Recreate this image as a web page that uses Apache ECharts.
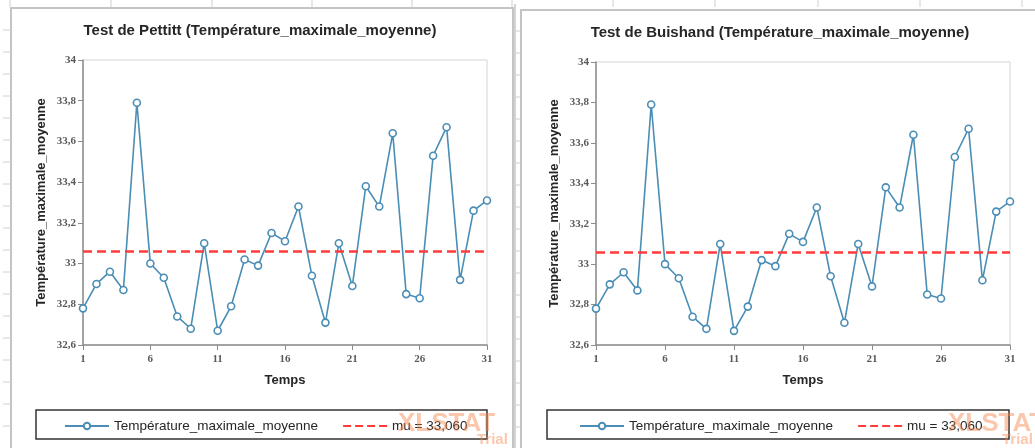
<!DOCTYPE html>
<html>
<head>
<meta charset="utf-8">
<script src="https://cdn.jsdelivr.net/npm/echarts@6/dist/echarts.min.js"></script>
<style>
html,body{margin:0;padding:0;background:#fff;}
#chart{width:1035px;height:448px;}
</style>
</head>
<body>
<div id="chart"></div>
<script>
// ---- data ----
const titles = [
  'Test de Pettitt (Température_maximale_moyenne)',
  'Test de Buishand (Température_maximale_moyenne)'
];
const categories = ['1','2','3','4','5','6','7','8','9','10','11','12','13','14','15','16',
  '17','18','19','20','21','22','23','24','25','26','27','28','29','30','31'];
const temperature = [32.78, 32.90, 32.96, 32.87, 33.79, 33.00, 32.93, 32.74, 32.68, 33.10,
  32.67, 32.79, 33.02, 32.99, 33.15, 33.11, 33.28, 32.94, 32.71, 33.10,
  32.89, 33.38, 33.28, 33.64, 32.85, 32.83, 33.53, 33.67, 32.92, 33.26, 33.31];
const mu = 33.06;
const seriesName = 'Température_maximale_moyenne';
const muName = 'mu = 33,060';
const yAxisName = 'Température_maximale_moyenne';
const xAxisName = 'Temps';

// ---- layout ----
const panels = [
  {grid:{left:83, right:548, top:60, bottom:103}, titleX:255, titleY:18, legendBox:[36,410,451,29], legendLeft:59, wm:[398,411], trial:[477,432]},
  {grid:{left:596, right:25, top:62, bottom:103}, titleX:775, titleY:20, legendBox:[547,410,462,29], legendLeft:574, wm:[948,411], trial:[1002,432]}
];
const lineColor = '#4a8db5';
const muColor = '#ff3b3b';

const fmt = v => String(+(+v).toFixed(1)).replace('.', ',');

const option = {
  animation:false,
  backgroundColor:'#ffffff',
  title:[], grid:[], xAxis:[], yAxis:[], series:[], legend:[], graphic:[]
};

panels.forEach((p, i) => {
  option.title.push({
    text: titles[i], left: p.titleX, top: p.titleY, textAlign:'center',
    textStyle:{fontFamily:'Liberation Sans', fontSize:15, fontWeight:'bold', color:'#262626'}
  });
  option.grid.push(Object.assign({show:true, borderColor:'#d4d4d4', borderWidth:1, backgroundColor:'transparent'}, p.grid));
  option.xAxis.push({
    type:'category', gridIndex:i, data:categories, boundaryGap:false,
    name:xAxisName, nameLocation:'middle', nameGap:29,
    nameTextStyle:{fontFamily:'Liberation Sans', fontSize:13, fontWeight:'bold', color:'#262626'},
    axisLine:{lineStyle:{color:'#8c8c8c', width:1.5}},
    axisTick:{show:true, interval:4, length:5, lineStyle:{color:'#8c8c8c'}},
    axisLabel:{interval:4, margin:9, fontFamily:'Liberation Serif', fontSize:11, fontWeight:'bold', color:'#595959'},
    splitLine:{show:false}
  });
  option.yAxis.push({
    type:'value', gridIndex:i, min:32.6, max:34, interval:0.2,
    name:yAxisName, nameLocation:'middle', nameGap:35, nameRotate:90,
    nameTextStyle:{fontFamily:'Liberation Sans', fontSize:13, fontWeight:'bold', color:'#262626'},
    axisLine:{show:true, lineStyle:{color:'#8c8c8c', width:1.5}},
    axisTick:{show:true, length:5, lineStyle:{color:'#8c8c8c'}},
    axisLabel:{formatter:fmt, margin:7, fontFamily:'Liberation Serif', fontSize:11, fontWeight:'bold', color:'#595959'},
    splitLine:{show:false}
  });
  option.series.push({
    type:'line', name:seriesName, xAxisIndex:i, yAxisIndex:i, data:temperature,
    symbol:'circle', symbolSize:7, showAllSymbol:true,
    lineStyle:{color:lineColor, width:1.6},
    itemStyle:{color:'#ffffff', borderColor:lineColor, borderWidth:1.6},
    z:3
  });
  option.series.push({
    type:'line', name:muName, xAxisIndex:i, yAxisIndex:i, data:[],
    symbol:'none',
    lineStyle:{color:muColor, width:2.5, type:[8,4]},
    itemStyle:{color:muColor},
    markLine:{
      symbol:'none', silent:true, label:{show:false},
      lineStyle:{color:muColor, width:2.5, type:[9,5]},
      data:[{yAxis:mu}]
    },
    z:2
  });
  option.legend.push({
    data:[{name:seriesName}, {name:muName, itemStyle:{opacity:0}}],
    left:p.legendLeft, top:p.legendBox[1]+4, itemWidth:44, itemHeight:8, itemGap:24,
    textStyle:{fontFamily:'Liberation Sans', fontSize:13.5, color:'#262626'}
  });
  option.graphic.push({
    type:'rect', shape:{x:p.legendBox[0], y:p.legendBox[1], width:p.legendBox[2], height:p.legendBox[3]},
    style:{fill:'none', stroke:'#333', lineWidth:1.5}, silent:true, z:1
  });
  option.graphic.push({
    type:'text', left:p.wm[0], top:p.wm[1], silent:true, z:10,
    style:{text:'XLSTAT', fill:'rgba(247,130,70,0.45)', font:'bold 26px "Liberation Sans"'}
  });
  option.graphic.push({
    type:'text', left:p.trial[0], top:p.trial[1], silent:true, z:10,
    style:{text:'Trial', fill:'rgba(247,130,70,0.45)', font:'bold 15px "Liberation Sans"'}
  });
});

// spreadsheet frame lines (decorative)
const g = option.graphic;
const gray = '#c4c4c4';
g.push({type:'polyline', shape:{points:[[11,448],[11,8],[513,8],[513,448]]}, style:{stroke:gray, lineWidth:2, fill:'none'}, silent:true});
g.push({type:'line', shape:{x1:515,y1:4,x2:515,y2:448}, style:{stroke:gray, lineWidth:1.5}, silent:true});
g.push({type:'polyline', shape:{points:[[521,448],[521,10],[1035,10]]}, style:{stroke:gray, lineWidth:2, fill:'none'}, silent:true});
for (let y = 30; y < 448; y += 22) {
  g.push({type:'line', shape:{x1:3,y1:y,x2:10,y2:y}, style:{stroke:'#d0d0d0', lineWidth:1}, silent:true});
  g.push({type:'line', shape:{x1:515,y1:y+1,x2:520,y2:y+1}, style:{stroke:'#d0d0d0', lineWidth:1}, silent:true});
}
[10,111,212,312,412,512,613,715,818,920,1022].forEach(x => {
  g.push({type:'line', shape:{x1:x,y1:0,x2:x,y2:7}, style:{stroke:'#d0d0d0', lineWidth:1}, silent:true});
});

const chart = echarts.init(document.getElementById('chart'), null, {renderer:'canvas'});
chart.setOption(option);
</script>
</body>
</html>
